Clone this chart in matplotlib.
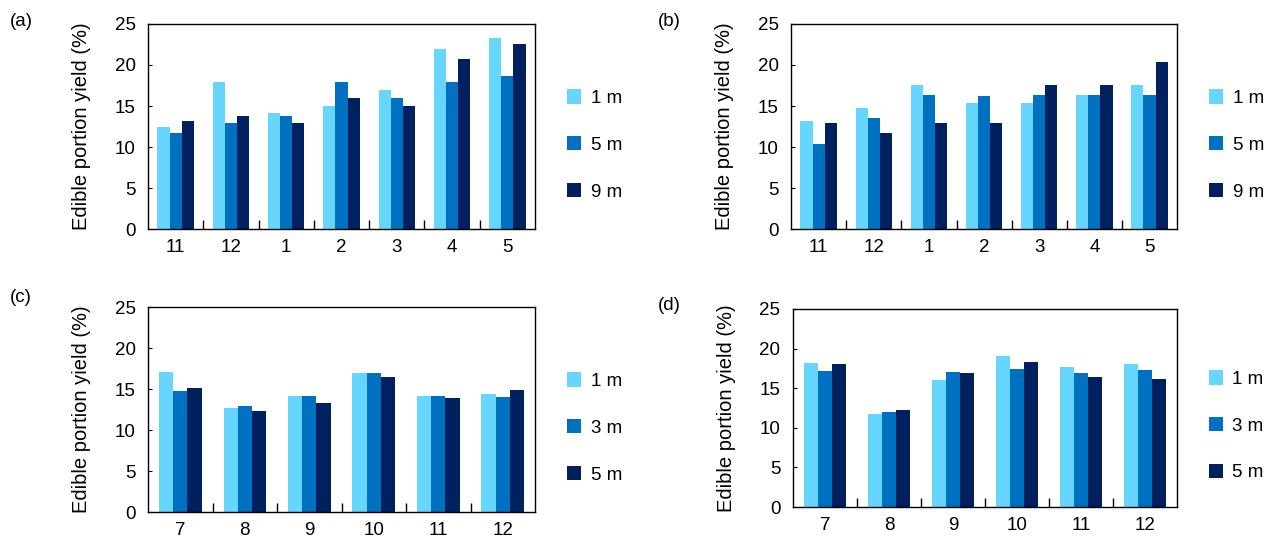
import numpy as np
import matplotlib
matplotlib.use("Agg")
import matplotlib.pyplot as plt
from matplotlib.ticker import FixedLocator

plt.rcParams['font.family'] = ['Liberation Sans', 'DejaVu Sans']
plt.rcParams['font.size'] = 13.5

# --- datos ---
meses_ab = ['11', '12', '1', '2', '3', '4', '5']
meses_cd = ['7', '8', '9', '10', '11', '12']

prof_ab = ['1 m', '5 m', '9 m']
prof_cd = ['1 m', '3 m', '5 m']

a_1m = [12.5, 17.9, 14.1, 15.0, 17.0, 21.9, 23.3]
a_5m = [11.7, 12.9, 13.8, 17.9, 16.0, 17.9, 18.6]
a_9m = [13.2, 13.8, 12.9, 16.0, 15.0, 20.7, 22.6]

b_1m = [13.2, 14.7, 17.6, 15.4, 15.4, 16.3, 17.6]
b_5m = [10.4, 13.5, 16.3, 16.2, 16.3, 16.3, 16.3]
b_9m = [12.9, 11.7, 12.9, 12.9, 17.6, 17.6, 20.4]

c_1m = [17.1, 12.7, 14.1, 17.0, 14.1, 14.4]
c_3m = [14.8, 12.9, 14.2, 17.0, 14.2, 14.0]
c_5m = [15.1, 12.3, 13.3, 16.5, 13.9, 14.9]

d_1m = [18.2, 11.8, 16.0, 19.1, 17.7, 18.1]
d_3m = [17.2, 12.0, 17.0, 17.4, 16.9, 17.3]
d_5m = [18.0, 12.3, 16.9, 18.3, 16.4, 16.2]

colores = ['#66D6FF', '#0070C0', '#002060']

fig = plt.figure(figsize=(12.72, 5.44), dpi=100)

paneles = [
    ('(a)', [0.1164, 0.5790, 0.3042, 0.3769], meses_ab, prof_ab, [a_1m, a_5m, a_9m], (10, 22)),
    ('(b)', [0.6219, 0.5790, 0.3035, 0.3769], meses_ab, prof_ab, [b_1m, b_5m, b_9m], (658, 22)),
    ('(c)', [0.1164, 0.0588, 0.3042, 0.3768], meses_cd, prof_cd, [c_1m, c_3m, c_5m], (10, 297)),
    ('(d)', [0.6234, 0.0680, 0.3019, 0.3640], meses_cd, prof_cd, [d_1m, d_3m, d_5m], (658, 305)),
]

ancho = 0.22
for etiqueta, pos, meses, prof, series, (tx, ty) in paneles:
    ax = fig.add_axes(pos)
    x = np.arange(len(meses))
    for i, (serie, nombre) in enumerate(zip(series, prof)):
        ax.bar(x + (i - 1) * ancho, serie, ancho, color=colores[i], label=nombre,
               edgecolor='none')
    ax.set_xlim(-0.5, len(meses) - 0.5)
    ax.set_ylim(0, 25)
    ax.set_yticks([0, 5, 10, 15, 20, 25])
    ax.set_xticks(x)
    ax.set_xticklabels(meses)
    ax.xaxis.set_minor_locator(FixedLocator(np.arange(0.5, len(meses) - 0.5, 1)))
    ax.tick_params(axis='x', which='major', length=0, pad=7)
    ax.tick_params(axis='x', which='minor', direction='in', length=6.5, width=1)
    ax.tick_params(axis='y', direction='in', length=3, pad=9)
    for s in ax.spines.values():
        s.set_linewidth(1.0)
    ax.set_ylabel('Edible portion yield (%)', fontsize=14.5, labelpad=17)
    ax.legend(loc='center left', bbox_to_anchor=(1.083, 0.41), frameon=False,
              borderpad=0, borderaxespad=0, handlelength=0.75, handleheight=0.8,
              handletextpad=0.5, labelspacing=1.55)
    fig.text(tx / 1272, 1 - ty / 544, etiqueta, fontsize=13.5, va='center', ha='left')

fig.savefig('out.png', dpi=100)
